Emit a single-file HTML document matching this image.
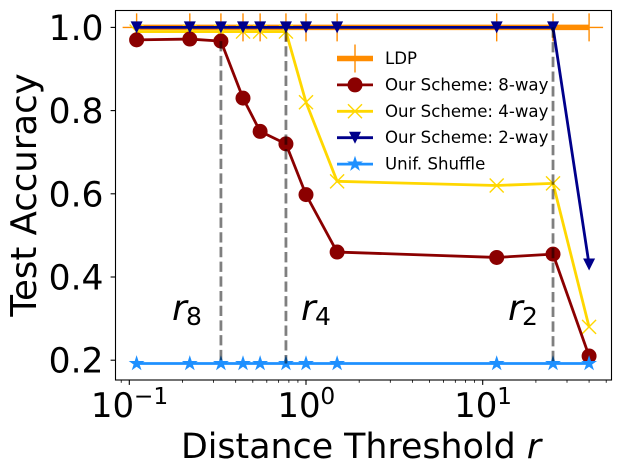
<!DOCTYPE html>
<html>
<head>
<meta charset="utf-8">
<title>Test Accuracy vs Distance Threshold</title>
<style>
html,body{margin:0;padding:0;background:#fff;width:620px;height:475px;overflow:hidden}
svg{display:block;font-family:"DejaVu Sans",sans-serif}
</style>
</head>
<body>
<svg id="chart" width="620" height="475" viewBox="0 0 620 475" xmlns="http://www.w3.org/2000/svg"></svg>
<script>
const thresholds = [0.11, 0.22, 0.33, 0.44, 0.55, 0.77, 1, 1.5, 12, 25, 40];
const ldpValues = [1, 1, 1, 1, 1, 1, 1, 1, 1, 1, 1];
const eightWayValues = [0.97, 0.972, 0.967, 0.83, 0.75, 0.72, 0.598, 0.46, 0.447, 0.455, 0.21];
const fourWayValues = [0.99, 0.99, 0.99, 0.99, 0.99, 0.99, 0.82, 0.63, 0.62, 0.625, 0.28];
const twoWayValues = [1, 1, 1, 1, 1, 1, 1, 1, 1, 1, 0.43];
const shuffleValues = [0.192, 0.192, 0.192, 0.192, 0.192, 0.192, 0.192, 0.192, 0.192, 0.192, 0.192];
const yTicks = [0.2, 0.4, 0.6, 0.8, 1.0];
const xDecades = [-1, 0, 1];
const xMinorTicks = [0.09, 0.2, 0.3, 0.4, 0.5, 0.6, 0.7, 0.8, 0.9, 2, 3, 4, 5, 6, 7, 8, 9, 20, 30, 40, 50];
const thresholdMarkers = [
  {label: "8", r: 0.33, top: 0.967},
  {label: "4", r: 0.77, top: 0.99},
  {label: "2", r: 25, top: 1}
];
const legendLabels = ["LDP", "Our Scheme: 8-way", "Our Scheme: 4-way", "Our Scheme: 2-way", "Unif. Shuffle"];

const svg = document.getElementById("chart");
const NS = "http://www.w3.org/2000/svg";
const plot = {left: 115.5, right: 611.5, top: 10.5, bottom: 380};

function xScale(r) { return 306 + Math.log10(r) * 176.7; }
function yScale(v) { return 27.4 + (1 - v) * 416; }

function make(tag, attrs, parent) {
  const el = document.createElementNS(NS, tag);
  for (const k in attrs) el.setAttribute(k, attrs[k]);
  (parent || svg).appendChild(el);
  return el;
}
function drawText(str, x, y, size, anchor, parent, italic) {
  const t = make("text", {x: x, y: y, "font-size": size, "text-anchor": anchor || "start", fill: "#000"}, parent);
  if (italic) t.setAttribute("font-style", "italic");
  t.textContent = str;
  return t;
}
function starPoints(cx, cy, R) {
  const pts = [];
  for (let i = 0; i < 10; i++) {
    const rad = i % 2 ? R * 0.382 : R;
    const a = -Math.PI / 2 + i * Math.PI / 5;
    pts.push((cx + rad * Math.cos(a)).toFixed(2) + "," + (cy + rad * Math.sin(a)).toFixed(2));
  }
  return pts.join(" ");
}
function drawMarker(kind, cx, cy, color, parent) {
  if (kind === "plus") {
    make("path", {d: `M${cx - 14} ${cy}H${cx + 14}M${cx} ${cy - 14}V${cy + 14}`, stroke: color, "stroke-width": 1.4, fill: "none"}, parent);
  } else if (kind === "circle") {
    make("circle", {cx: cx, cy: cy, r: 7.5, fill: color}, parent);
  } else if (kind === "x") {
    make("path", {d: `M${cx - 7} ${cy - 7}L${cx + 7} ${cy + 7}M${cx - 7} ${cy + 7}L${cx + 7} ${cy - 7}`, stroke: color, "stroke-width": 1.4, fill: "none"}, parent);
  } else if (kind === "tri") {
    make("polygon", {points: `${cx - 6},${cy - 6} ${cx + 6},${cy - 6} ${cx},${cy + 6}`, fill: color}, parent);
  } else if (kind === "star") {
    make("polygon", {points: starPoints(cx, cy, 6.4), fill: color, stroke: color, "stroke-width": 1.2, "stroke-linejoin": "miter"}, parent);
  }
}
function drawSeries(name, values, color, width, kind) {
  const g = make("g", {});
  
  
  const pts = thresholds.map((r, i) => xScale(r).toFixed(2) + "," + yScale(values[i]).toFixed(2)).join(" ");
  make("polyline", {points: pts, fill: "none", stroke: color, "stroke-width": width, "stroke-linejoin": "round"}, g);
  thresholds.forEach((r, i) => drawMarker(kind, xScale(r), yScale(values[i]), color, g));
}

/* series, back to front */
drawSeries("ldp-series", ldpValues, "#ff8c00", 5.5, "plus");
drawSeries("four-way-series", fourWayValues, "#ffd700", 2.8, "x");
drawSeries("eight-way-series", eightWayValues, "#8b0000", 2.8, "circle");
drawSeries("two-way-series", twoWayValues, "#00008b", 2.8, "tri");
drawSeries("unif-shuffle-series", shuffleValues, "#1e90ff", 2.8, "star");

/* threshold lines and labels */
const markerOffsets = [172, 301, 508];
thresholdMarkers.forEach((m, i) => {
  const line = make("line", {x1: xScale(m.r), x2: xScale(m.r), y1: yScale(m.top), y2: yScale(0.192), stroke: "#000", "stroke-opacity": 0.5, "stroke-width": 2.8, "stroke-dasharray": "10.3 4.4"});
  
  
  const g = make("g", {});
  
  
  drawText("r", markerOffsets[i], 320, 36, "start", g, true);
  drawText(m.label, markerOffsets[i] + 14, 325, 25, "start", g);
});

/* axes frame */
const frame = make("rect", {x: plot.left, y: plot.top, width: plot.right - plot.left, height: plot.bottom - plot.top, fill: "none", stroke: "#000", "stroke-width": 1.1});



/* y axis */
yTicks.forEach(v => {
  const y = yScale(v);
  const tick = make("line", {x1: plot.left - 4.9, x2: plot.left, y1: y, y2: y, stroke: "#000", "stroke-width": 1.1});
  
  
  const label = drawText(v.toFixed(1), 103.5, y + 12.5, 34.5, "end");
  
  
});

/* x axis */
xDecades.forEach(d => {
  const x = xScale(Math.pow(10, d));
  const tick = make("line", {x1: x, x2: x, y1: plot.bottom, y2: plot.bottom + 4.9, stroke: "#000", "stroke-width": 1.1});
  
  
  const expStr = d < 0 ? "\u2212" + Math.abs(d) : String(d);
  const expW = d < 0 ? 34.4 : 14.8;
  const start = x - (42.4 + expW) / 2;
  const g = make("g", {});
  
  
  drawText("10", start, 417, 34, "start", g);
  drawText(expStr, start + 43, 404, 23.3, "start", g);
});
xMinorTicks.forEach(r => {
  const x = xScale(r);
  const tick = make("line", {x1: x, x2: x, y1: plot.bottom, y2: plot.bottom + 2.8, stroke: "#000", "stroke-width": 0.8});
  
  
});

/* axis titles */
const xTitle = make("g", {});


const xt = make("text", {x: 361, y: 458, "font-size": 34.8, "text-anchor": "middle", fill: "#000"}, xTitle);
xt.textContent = "Distance Threshold ";
const xtr = make("tspan", {"font-style": "italic"}, xt);
xtr.textContent = "r";

const yTitle = drawText("Test Accuracy", 0, 0, 35.5, "middle");
yTitle.setAttribute("transform", "translate(36 195) rotate(-90)");



/* legend */
const legendKinds = [
  ["#ff8c00", 5.5, "plus"],
  ["#8b0000", 2.8, "circle"],
  ["#ffd700", 2.8, "x"],
  ["#00008b", 2.8, "tri"],
  ["#1e90ff", 2.8, "star"]
];
legendLabels.forEach((name, i) => {
  const y = 58.5 + i * 26.4;
  const g = make("g", {});
  
  
  const s = legendKinds[i];
  make("line", {x1: 337, x2: 373, y1: y, y2: y, stroke: s[0], "stroke-width": s[1]}, g);
  drawMarker(s[2], 355, y, s[0], g);
  drawText(name, 385, y + 5.5, 16.6, "start", g);
});
</script>
</body>
</html>
